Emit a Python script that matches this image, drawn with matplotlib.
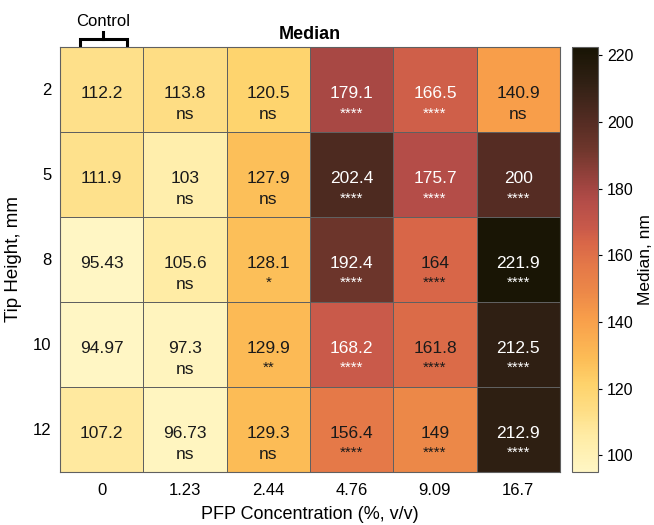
import numpy as np
import matplotlib
matplotlib.use("Agg")
import matplotlib.pyplot as plt
from matplotlib.colors import LinearSegmentedColormap, Normalize

plt.rcParams["font.family"] = ["Liberation Sans", "DejaVu Sans"]

heights = ["2", "5", "8", "10", "12"]
concs = ["0", "1.23", "2.44", "4.76", "9.09", "16.7"]

median_2 = [112.2, 113.8, 120.5, 179.1, 166.5, 140.9]
median_5 = [111.9, 103, 127.9, 202.4, 175.7, 200]
median_8 = [95.43, 105.6, 128.1, 192.4, 164, 221.9]
median_10 = [94.97, 97.3, 129.9, 168.2, 161.8, 212.5]
median_12 = [107.2, 96.73, 129.3, 156.4, 149, 212.9]

sig_2 = ["", "ns", "ns", "****", "****", "ns"]
sig_5 = ["", "ns", "ns", "****", "****", "****"]
sig_8 = ["", "ns", "*", "****", "****", "****"]
sig_10 = ["", "ns", "**", "****", "****", "****"]
sig_12 = ["", "ns", "ns", "****", "****", "****"]

vals = np.array([median_2, median_5, median_8, median_10, median_12])
sigs = [sig_2, sig_5, sig_8, sig_10, sig_12]

vmin, vmax = 94.97, 222.5

# yellow -> orange -> red -> brown -> black
anchors = [
    (vmin, "#fff6c4"), (106, "#ffeba3"), (113, "#fede86"), (121, "#fed36c"),
    (129, "#fcbc56"), (141, "#f89e4a"), (149, "#ec8848"), (157, "#e47848"),
    (164, "#d86648"), (168, "#c95a4a"), (176, "#b44d48"), (180, "#a44642"),
    (192, "#6e362c"), (201, "#522b22"), (212, "#302014"), (vmax, "#181404"),
]
pos = [(v - vmin) / (vmax - vmin) for v, _ in anchors]
pos[0], pos[-1] = 0.0, 1.0
cmap = LinearSegmentedColormap.from_list("median", list(zip(pos, [c for _, c in anchors])))
norm = Normalize(vmin=vmin, vmax=vmax)

fig = plt.figure(figsize=(6.54, 5.25), dpi=100)
ax = fig.add_axes([0.0917, 0.101, 0.7645, 0.8095])
cax = fig.add_axes([0.8746, 0.101, 0.0398, 0.8095])

mesh = ax.pcolormesh(vals, cmap=cmap, norm=norm, edgecolors="#606060", linewidth=0.6)
ax.set_xlim(0, len(concs))
ax.set_ylim(len(heights), 0)

for i in range(len(heights)):
    for j in range(len(concs)):
        v = vals[i, j]
        tc = "white" if v > 165 else "#1a1a1a"
        ax.text(j + 0.5, i + 0.55, f"{v:g}", ha="center", va="center", fontsize=12.5, color=tc)
        s = sigs[i][j]
        if s == "ns":
            ax.text(j + 0.5, i + 0.8, s, ha="center", va="center", fontsize=12.5, color=tc)
        elif s:
            ax.text(j + 0.5, i + 0.78, s, ha="center", va="center", fontsize=11, color=tc)

ax.set_xticks(np.arange(len(concs)) + 0.5)
ax.set_xticklabels(concs, fontsize=12)
ax.set_yticks(np.arange(len(heights)) + 0.5)
ax.set_yticklabels(heights, fontsize=12)
ax.tick_params(axis="x", length=0, pad=8)
ax.tick_params(axis="y", length=0, pad=6)
for sp in ax.spines.values():
    sp.set_color("#606060")
    sp.set_linewidth(0.8)

ax.set_xlabel("PFP Concentration (%, v/v)", fontsize=13, labelpad=6)
ax.set_ylabel("Tip Height, mm", fontsize=13.5, labelpad=8)
ax.set_title("Median", fontsize=13, fontweight="bold", pad=6)

# bracket over the control column
bx0, bx1, bxc = 0.24, 0.80, 0.52
ax.plot([bx0, bx0, bx1, bx1], [-0.02, -0.095, -0.095, -0.02], color="black", lw=2.2, clip_on=False,
        solid_joinstyle="miter")
ax.plot([bxc, bxc], [-0.095, -0.18], color="black", lw=2.2, clip_on=False)
ax.text(bxc, -0.21, "Control", ha="center", va="bottom", fontsize=12)

cb = fig.colorbar(mesh, cax=cax)
cb.set_ticks([100, 120, 140, 160, 180, 200, 220])
cb.ax.tick_params(labelsize=11.5, length=3, width=0.8)
cb.outline.set_edgecolor("#606060")
cb.outline.set_linewidth(0.8)
cb.set_label("Median, nm", fontsize=12.5, labelpad=3)

fig.savefig("out.png", dpi=100)
